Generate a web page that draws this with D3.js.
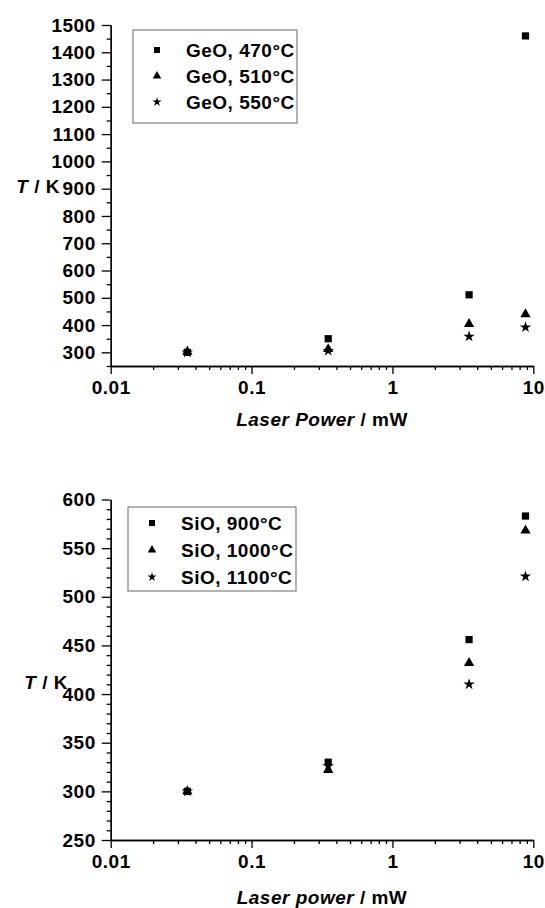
<!DOCTYPE html>
<html><head><meta charset="utf-8">
<script src="https://cdn.jsdelivr.net/npm/d3@7"></script>
<style>
body{margin:0;background:#fff}
text{font-family:"Liberation Sans",Arial,sans-serif;font-weight:bold;fill:#000}
</style>
</head><body><svg id="c" width="545" height="908"></svg>
<script>
// ---- data ----
const powers = [0.035, 0.35, 3.5, 8.8];
const xTicks = [0.01, 0.1, 1, 10];
const xTickLabels = ["0.01", "0.1", "1", "10"];

const geoLabels = ["GeO, 470°C", "GeO, 510°C", "GeO, 550°C"];
const geo470 = [300, 350, 511, 1460];
const geo510 = [302, 312, 404, 440];
const geo550 = [300, 306, 358, 392];
const geoYTicks = [300, 400, 500, 600, 700, 800, 900, 1000, 1100, 1200, 1300, 1400, 1500];

const sioLabels = ["SiO, 900°C", "SiO, 1000°C", "SiO, 1100°C"];
const sio900 = [300, 330, 456, 583];
const sio1000 = [300, 322, 432, 568];
const sio1100 = [300, 326, 410, 521];
const sioYTicks = [250, 300, 350, 400, 450, 500, 550, 600];

const symbols = [d3.symbolSquare, d3.symbolTriangle, d3.symbolStar];
const symSize = [52, 46, 40];
const legSize = [36, 32, 26];

const FS = "19px", LS = "0.5px";
const svg = d3.select("#c");

function panel(o) {
  const g = svg.append("g");
  const x = d3.scaleLog().domain([0.01, 10]).range([110.7, 533.3]);
  const y = d3.scaleLinear().domain(o.yDomain).range(o.yRange);

  const minorX = [];
  for (let d = 0.01; d < 10; d *= 10) for (let k = 2; k <= 9; k++) minorX.push(d * k);
  const minorY = d3.range(o.yDomain[0], o.yDomain[1] + 0.001, o.minorStep).filter(v => !o.yTicks.includes(v));

  const xMinor = g.append("g").attr("transform", `translate(0,${o.yRange[0]})`)
    .call(d3.axisBottom(x).tickValues(minorX).tickSize(4).tickSizeOuter(0).tickFormat(""));
  const xMajor = g.append("g").attr("transform", `translate(0,${o.yRange[0]})`)
    .call(d3.axisBottom(x).tickValues(xTicks).tickSize(8).tickSizeOuter(0).tickPadding(7)
      .tickFormat((d, i) => xTickLabels[i]));
  const yMinor = g.append("g").attr("transform", `translate(110.7,0)`)
    .call(d3.axisLeft(y).tickValues(minorY).tickSize(4).tickSizeOuter(0).tickFormat(""));
  const yMajor = g.append("g").attr("transform", `translate(110.7,0)`)
    .call(d3.axisLeft(y).tickValues(o.yTicks).tickSize(9).tickSizeOuter(0).tickPadding(6).tickFormat(d3.format("d")));
  [xMinor, xMajor, yMinor, yMajor].forEach(a => {
    a.attr("font-size", null).attr("font-family", null);
    a.selectAll("path,line").attr("stroke", "#000").attr("stroke-width", 1.3);
    a.selectAll("text").style("font-size", FS).style("letter-spacing", LS)
      .style("font-family", '"Liberation Sans",Arial,sans-serif').style("font-weight", "bold");
  });

  o.series.forEach((vals, si) => {
    g.append("g").selectAll("path").data(vals).join("path")
      .attr("transform", (d, i) => `translate(${x(powers[i])},${y(d)})`)
      .attr("d", d3.symbol().type(symbols[si]).size(symSize[si]))
      .attr("fill", "#000");
  });

  const L = o.legend;
  g.append("rect").attr("x", L.x).attr("y", L.y).attr("width", L.w).attr("height", L.h)
    .attr("fill", "#fff").attr("stroke", "#808080").attr("stroke-width", 1.2);
  o.labels.forEach((lab, i) => {
    const cy = L.rowY + i * L.rowGap;
    g.append("path").attr("transform", `translate(${L.symX},${cy})`)
      .attr("d", d3.symbol().type(symbols[i]).size(legSize[i])).attr("fill", "#000");
    g.append("text").attr("x", L.textX).attr("y", cy).attr("dy", "0.36em")
      .style("font-size", FS).style("letter-spacing", LS).text(lab);
  });

  const yt = g.append("text").attr("x", o.yTitle[0]).attr("y", o.yTitle[1]).attr("text-anchor", "end")
    .style("font-size", FS).style("letter-spacing", LS);
  yt.append("tspan").style("font-style", "italic").text("T");
  yt.append("tspan").text(" / K");
  const xt = g.append("text").attr("x", 322).attr("y", o.xTitleY).attr("text-anchor", "middle")
    .style("font-size", FS).style("letter-spacing", LS);
  xt.append("tspan").style("font-style", "italic").text(o.xTitleItalic);
  xt.append("tspan").text(" / mW");
}

panel({
  yDomain: [250, 1500], yRange: [366, 25], yTicks: geoYTicks, minorStep: 50,
  series: [geo470, geo510, geo550], labels: geoLabels,
  legend: { x: 133, y: 30, w: 164, h: 93, rowY: 50, rowGap: 26, symX: 157, textX: 186 },
  yTitle: [60, 193], xTitleY: 426, xTitleItalic: "Laser Power"
});
panel({
  yDomain: [250, 600], yRange: [840, 499.5], yTicks: sioYTicks, minorStep: 10,
  series: [sio900, sio1000, sio1100], labels: sioLabels,
  legend: { x: 128, y: 507, w: 168, h: 84, rowY: 523, rowGap: 27, symX: 152, textX: 181 },
  yTitle: [68, 689], xTitleY: 904, xTitleItalic: "Laser power"
});
</script>
</body></html>
